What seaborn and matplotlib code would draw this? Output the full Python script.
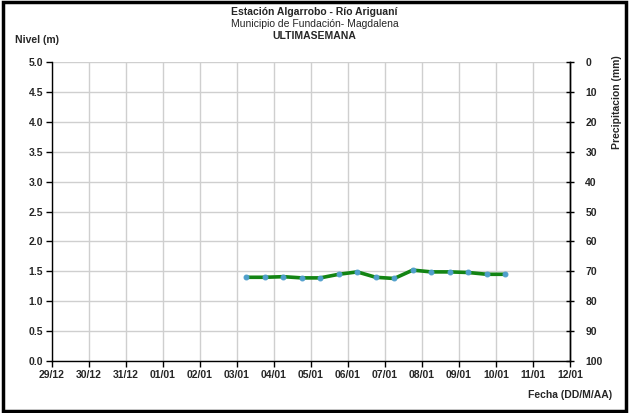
import matplotlib
matplotlib.use("Agg")
import matplotlib.pyplot as plt
import matplotlib.dates as mdates
import seaborn as sns
import pandas as pd

# ---- data ----
times = ["2014-01-03 06:00", "2014-01-03 18:00", "2014-01-04 06:00", "2014-01-04 18:00",
         "2014-01-05 06:00", "2014-01-05 18:00", "2014-01-06 06:00", "2014-01-06 18:00",
         "2014-01-07 06:00", "2014-01-07 18:00", "2014-01-08 06:00", "2014-01-08 18:00",
         "2014-01-09 06:00", "2014-01-09 18:00", "2014-01-10 06:00"]
nivel = [1.40, 1.40, 1.41, 1.39, 1.39, 1.45, 1.49, 1.40, 1.38, 1.52, 1.49, 1.49, 1.48, 1.45, 1.45]
tick_days = pd.date_range("2013-12-29", "2014-01-12", freq="D")
left_ticks = [0.0, 0.5, 1.0, 1.5, 2.0, 2.5, 3.0, 3.5, 4.0, 4.5, 5.0]
right_ticks = [0, 10, 20, 30, 40, 50, 60, 70, 80, 90, 100]

df = pd.DataFrame({"fecha": pd.to_datetime(times), "nivel": nivel})

sns.set_theme(style="white")
plt.rcParams["font.family"] = ["Liberation Sans", "DejaVu Sans"]

fig = plt.figure(figsize=(6.29, 4.13), dpi=100)
ax = fig.add_axes([52 / 629, 1 - 361 / 413, (570 - 52) / 629, (361 - 62) / 413])

sns.lineplot(data=df, x="fecha", y="nivel", ax=ax, color="#138413", linewidth=2.6,
             marker="o", markersize=3.5, markerfacecolor="#4F9FCC", markeredgecolor="#4F9FCC",
             zorder=3)

ax.set_xlim(tick_days[0], tick_days[-1])
ax.set_ylim(0, 5)
ax.set_xticks(tick_days)
ax.xaxis.set_major_formatter(mdates.DateFormatter("%d/%m"))
ax.set_yticks(left_ticks)
ax.set_yticklabels([f"{v:.1f}" for v in left_ticks])
ax.grid(True, color="#CFCFCF", linewidth=1)
ax.set_xlabel("")
ax.set_ylabel("")

for s in ["left", "bottom", "right"]:
    ax.spines[s].set_color("black")
    ax.spines[s].set_linewidth(1)
ax.spines["top"].set_visible(False)

ax.tick_params(axis="both", which="major", labelsize=7.5, length=4, width=1, color="black",
               direction="out", pad=2.5, left=True, bottom=True)
for lab in ax.get_xticklabels() + ax.get_yticklabels():
    lab.set_fontweight("bold")

ax2 = ax.twinx()
ax2.set_ylim(100, 0)
ax2.set_yticks(right_ticks)
ax2.set_yticklabels([str(v) for v in right_ticks])
ax2.tick_params(axis="y", labelsize=7.5, length=6, width=1, color="black",
                direction="inout", pad=8)
for lab in ax2.get_yticklabels():
    lab.set_fontweight("bold")
for s in ["left", "top", "bottom"]:
    ax2.spines[s].set_visible(False)
ax2.spines["right"].set_color("black")
ax2.spines["right"].set_linewidth(1)
ax2.grid(False)

fig.text(0.5, 1 - 12 / 413, "Estación Algarrobo - Río Ariguaní", ha="center", va="center",
         fontsize=7.5, fontweight="bold")
fig.text(0.5, 1 - 24 / 413, "Municipio de Fundación- Magdalena", ha="center", va="center",
         fontsize=7.5)
fig.text(0.5, 1 - 36 / 413, "ULTIMASEMANA", ha="center", va="center",
         fontsize=7.5, fontweight="bold")
fig.text(15 / 629, 1 - 40 / 413, "Nivel (m)", ha="left", va="center", fontsize=7.5,
         fontweight="bold")
fig.text(612 / 629, 1 - 395 / 413, "Fecha (DD/M/AA)", ha="right", va="center", fontsize=7.5,
         fontweight="bold")
fig.text(617 / 629, 1 - 102 / 413, "Precipitacion (mm)", ha="center", va="center",
         fontsize=7.5, fontweight="bold", rotation=90)

border = plt.Rectangle((0.004, 0.005), 0.992, 0.99, transform=fig.transFigure,
                       fill=False, edgecolor="black", linewidth=2.5)
fig.patches.append(border)

fig.savefig("out.png", dpi=100, facecolor="white")
